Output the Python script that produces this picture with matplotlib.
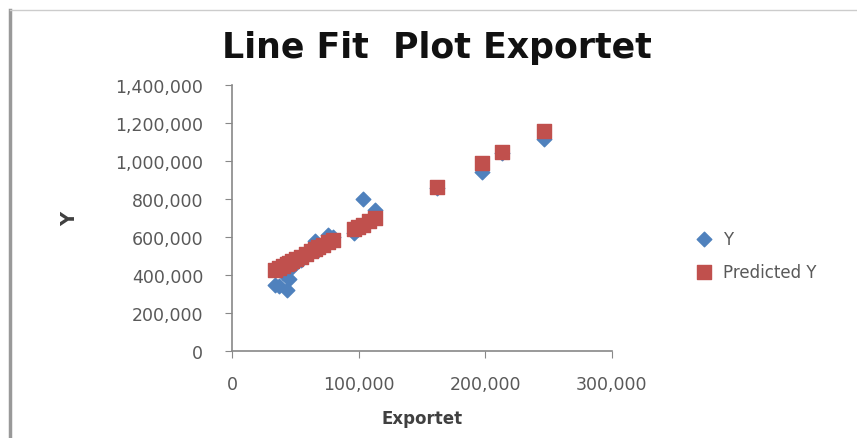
import matplotlib.pyplot as plt
from matplotlib.lines import Line2D
from matplotlib.ticker import FuncFormatter

exportet = [34000, 37000, 40000, 43000, 45000, 47000, 50000, 54000, 58000, 62000,
            65000, 68000, 72000, 76000, 80000, 96000, 99000, 103000, 108000, 113000,
            162000, 197000, 213000, 246000]
y_obs = [350000, 345000, 410000, 320000, 380000, 440000, 470000, 480000, 500000, 540000,
         580000, 530000, 560000, 610000, 600000, 620000, 640000, 800000, 690000, 740000,
         860000, 940000, 1040000, 1115000]
y_pred = [428000, 439000, 449000, 459000, 466000, 473000, 484000, 497000, 511000, 525000,
          535000, 546000, 559000, 573000, 587000, 642000, 653000, 666000, 684000, 701000,
          865000, 991000, 1046000, 1160000]

x_ticks = [0, 100000, 200000, 300000]
y_ticks = [0, 200000, 400000, 600000, 800000, 1000000, 1200000, 1400000]

blue = "#4F81BD"
red = "#C0504D"
grey = "#595959"

fig = plt.figure(figsize=(8.57, 4.39), dpi=100)
ax = fig.add_axes([0.271, 0.198, 0.443, 0.606])

ax.scatter(exportet, y_obs, marker="D", s=55, color=blue, label="Y", zorder=3)
ax.scatter(exportet, y_pred, marker="s", s=110, color=red, label="Predicted Y", zorder=4)

ax.set_xlim(0, 300000)
ax.set_ylim(0, 1400000)
ax.set_xticks(x_ticks)
ax.set_yticks(y_ticks)
fmt = FuncFormatter(lambda v, p: f"{int(v):,}")
ax.xaxis.set_major_formatter(fmt)
ax.yaxis.set_major_formatter(fmt)

for side in ["top", "right"]:
    ax.spines[side].set_visible(False)
for side in ["left", "bottom"]:
    ax.spines[side].set_color("#888888")
    ax.spines[side].set_linewidth(1.2)
ax.tick_params(direction="out", length=5, color="#888888", labelsize=12.5,
               labelcolor=grey)
ax.tick_params(axis="y", pad=16)
ax.tick_params(axis="x", pad=12)

ax.set_xlabel("Exportet", fontsize=12, fontweight="bold", color="#404040", labelpad=12)
ax.set_ylabel("Y", fontsize=14, fontweight="bold", color="#404040", labelpad=26)

fig.text(0.51, 0.89, "Line Fit  Plot Exportet", ha="center", va="center",
         fontsize=25, fontweight="bold", color="#111111")

leg = ax.legend(loc="center left", bbox_to_anchor=(1.16, 0.36), frameon=False,
                fontsize=12, labelcolor=grey, handletextpad=0.1, labelspacing=0.9)

# screenshot frame lines
fig.add_artist(Line2D([0.012, 0.012], [0.0, 0.975], color="#999999", lw=2.5))
fig.add_artist(Line2D([0.012, 1.0], [0.975, 0.975], color="#cccccc", lw=1))

fig.savefig("out.png", dpi=100)
